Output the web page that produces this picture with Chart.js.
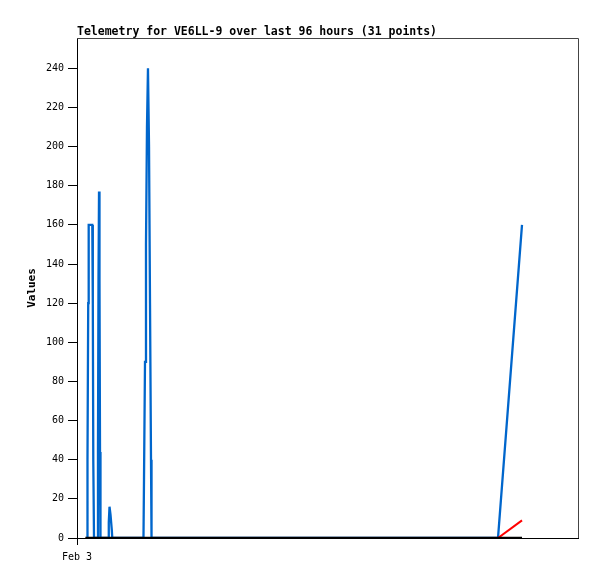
<!DOCTYPE html>
<html>
<head>
<meta charset="utf-8">
<script src="https://cdn.jsdelivr.net/npm/chart.js@4.4.0/dist/chart.umd.min.js"></script>
<style>
  html, body { margin: 0; padding: 0; background: #fff; }
  canvas { display: block; }
</style>
</head>
<body>
<canvas id="chart" width="597" height="579"></canvas>
<script>
// hours since start of window (Feb 3) and telemetry values
const blueHours = [1.92, 2.01, 2.15, 2.24, 2.93, 3.03, 3.12, 3.26,
                   3.93, 4.02, 4.12, 4.22, 4.31, 4.41, 4.50,
                   6.04, 6.09, 6.23, 6.42, 6.67, 6.76,
                   12.74, 12.84, 13.03, 13.22, 13.41, 13.60, 13.80, 13.99, 14.18, 14.28,
                   80.67, 85.27];
const blueValues = [0, 40, 120, 160, 160, 120, 40, 0,
                    0, 44, 132, 177, 132, 44, 0,
                    0, 8, 16, 12, 4, 0,
                    0, 30, 90, 150, 210, 240, 200, 120, 40, 0,
                    0, 160];
const redHours = [80.67, 85.27];
const redValues = [0, 9];
const blackHours = [1.6, 85.27];
const blackValues = [0, 0];

const xTickLabels = ['Feb 3'];
const titleText = 'Telemetry for VE6LL-9 over last 96 hours (31 points)';

function toPoints(xs, ys) {
    return xs.map((x, i) => ({ x: x, y: ys[i] }));
}

const frame = {
    id: 'frame',
    beforeDatasetsDraw(chart) {
        const { ctx, chartArea: a } = chart;
        ctx.save();
        ctx.strokeStyle = '#444';
        ctx.lineWidth = 1;
        ctx.beginPath();
        ctx.moveTo(a.left, a.top + 0.5);
        ctx.lineTo(a.right + 0.5, a.top + 0.5);
        ctx.lineTo(a.right + 0.5, a.bottom);
        ctx.stroke();
        ctx.restore();
    },
    afterDraw(chart) {
        const { ctx, chartArea: a } = chart;
        ctx.save();
        ctx.fillStyle = '#000';
        ctx.font = 'bold 11.5px "DejaVu Sans Mono"';
        ctx.textBaseline = 'alphabetic';
        ctx.fillText(titleText, a.left, 35);
        ctx.restore();
    }
};

new Chart(document.getElementById('chart'), {
    type: 'line',
    data: {
        datasets: [
            {
                data: toPoints(blackHours, blackValues),
                borderColor: '#000',
                borderWidth: 2.5,
                pointRadius: 0
            },
            {
                data: toPoints(redHours, redValues),
                borderColor: '#ff0000',
                borderWidth: 2,
                pointRadius: 0
            },
            {
                data: toPoints(blueHours, blueValues),
                borderColor: '#0066cc',
                borderWidth: 2.3,
                pointRadius: 0
            }
        ]
    },
    options: {
        responsive: false,
        devicePixelRatio: 1,
        animation: false,
        layout: { padding: { top: 38, right: 19, left: 0, bottom: 0 } },
        plugins: {
            legend: { display: false },
            tooltip: { enabled: false }
        },
        scales: {
            x: {
                type: 'linear',
                min: 0,
                max: 96,
                afterBuildTicks: s => { s.ticks = [{ value: 0 }]; },
                afterFit: s => { s.height = 41; },
                ticks: {
                    autoSkip: false,
                    maxRotation: 0,
                    padding: 6,
                    color: '#000',
                    font: { family: '"DejaVu Sans Mono"', size: 10 },
                    callback: (v, i) => xTickLabels[i]
                },
                grid: { drawOnChartArea: false, tickLength: 7, color: '#000' },
                border: { color: '#000', width: 1 }
            },
            y: {
                min: 0,
                max: 255.5,
                afterBuildTicks: s => { s.ticks = s.ticks.filter(t => t.value % 20 === 0); },
                afterFit: s => { s.width = 77; },
                ticks: {
                    stepSize: 20,
                    padding: 4,
                    color: '#000',
                    font: { family: '"DejaVu Sans Mono"', size: 10 }
                },
                grid: { drawOnChartArea: false, tickLength: 9, color: '#000' },
                border: { color: '#000', width: 1 },
                title: {
                    display: true,
                    text: 'Values',
                    color: '#000',
                    padding: { top: 26, bottom: 0 },
                    font: { family: '"DejaVu Sans Mono"', size: 11, weight: 'bold' }
                }
            }
        }
    },
    plugins: [frame]
});
</script>
</body>
</html>
